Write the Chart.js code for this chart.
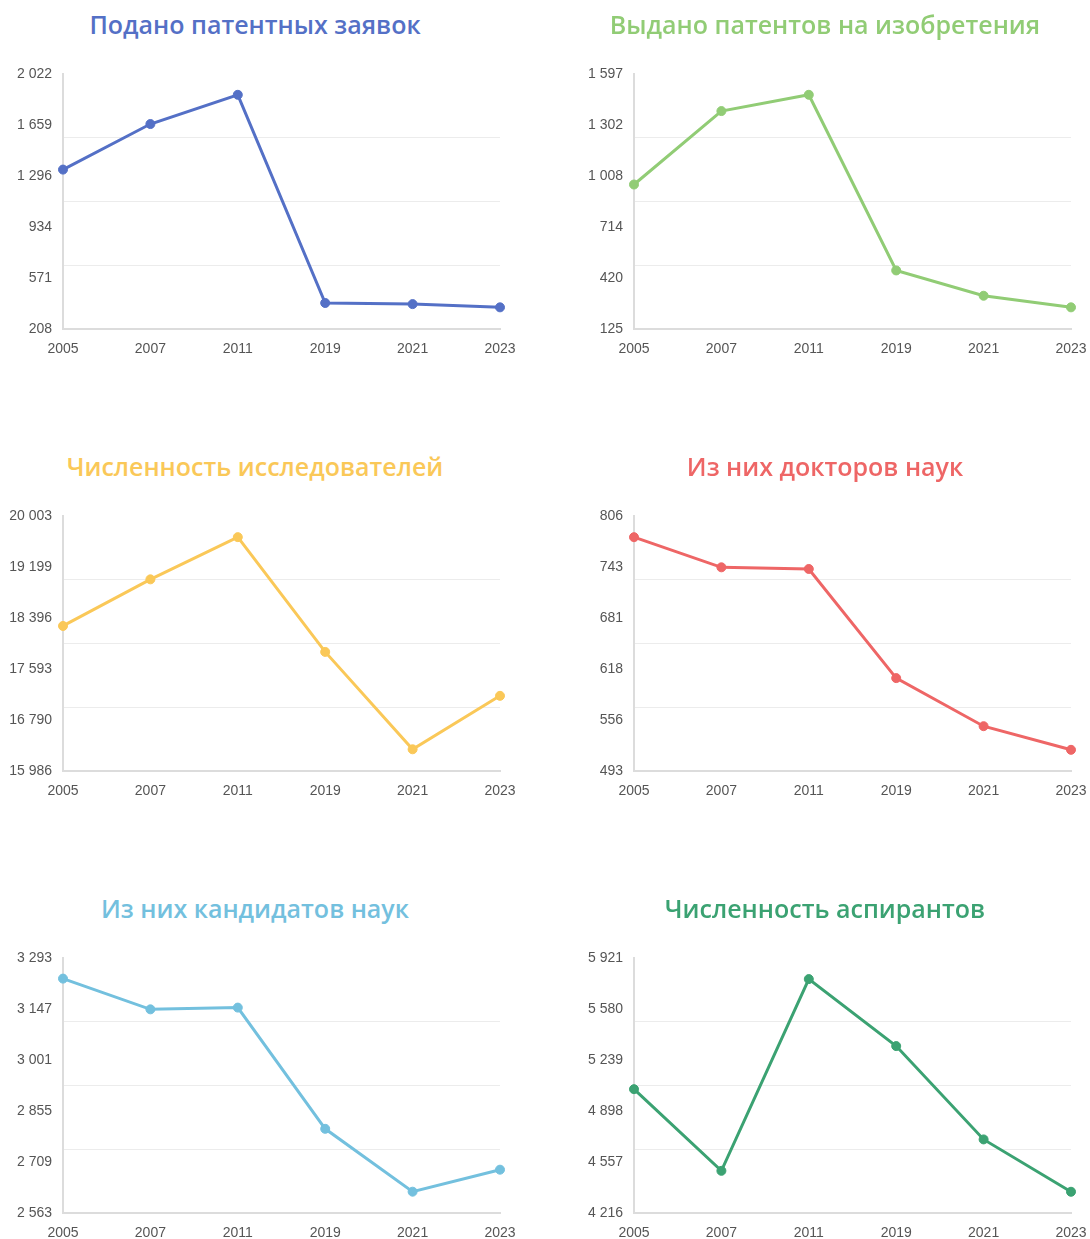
<!DOCTYPE html>
<html><head><meta charset="utf-8">
<script src="https://cdn.jsdelivr.net/npm/chart.js@4.4.1/dist/chart.umd.min.js"></script>
<style>
html,body{margin:0;padding:0;background:#fff;}
body{width:1090px;height:1239px;position:relative;overflow:hidden;}
canvas{position:absolute;}
.title{position:absolute;width:600px;text-align:center;font-family:'Open Sans','Noto Sans',sans-serif;font-weight:600;font-size:25px;line-height:30px;white-space:nowrap;}
</style></head><body>
<script>
const years = ['2005', '2007', '2011', '2019', '2021', '2023'];
const titles = ['Подано патентных заявок', 'Выдано патентов на изобретения', 'Численность исследователей', 'Из них докторов наук', 'Из них кандидатов наук', 'Численность аспирантов'];

const patentApplications = [1342, 1666, 1874, 393, 385, 362];
const patentsGranted = [959, 1383, 1477, 463, 317, 250];
const researchers = [18271, 19005, 19670, 17862, 16328, 17170];
const doctors = [780, 743, 741, 607, 548, 519];
const candidates = [3234, 3146, 3151, 2804, 2624, 2687];
const postgraduates = [5044, 4498, 5780, 5332, 4708, 4358];

const ticksPatentApplications = [208, 571, 934, 1296, 1659, 2022];
const ticksPatentsGranted = [125, 420, 714, 1008, 1302, 1597];
const ticksResearchers = [15986, 16790, 17593, 18396, 19199, 20003];
const ticksDoctors = [493, 556, 618, 681, 743, 806];
const ticksCandidates = [2563, 2709, 2855, 3001, 3147, 3293];
const ticksPostgraduates = [4216, 4557, 4898, 5239, 5580, 5921];

const seriesList = [patentApplications, patentsGranted, researchers, doctors, candidates, postgraduates];
const tickList = [ticksPatentApplications, ticksPatentsGranted, ticksResearchers, ticksDoctors, ticksCandidates, ticksPostgraduates];
const colors = ['#5470c6', '#91cc75', '#fac858', '#ee6666', '#73c0de', '#3ba272'];

function fmt(v) {
  return String(Math.round(v)).replace(/\B(?=(\d{3})+(?!\d))/g, ' ');
}

Chart.defaults.font.family = "'Liberation Sans', Arial, sans-serif";

seriesList.forEach((series, i) => {
  const col = i % 2, row = Math.floor(i / 2);
  const ticks = tickList[i];
  const lo = ticks[0], hi = ticks[ticks.length - 1];

  const t = document.createElement('div');
  t.className = 'title';
  t.textContent = titles[i];
  t.style.color = colors[i];
  t.style.left = (col ? 825 : 255) - 300 + 'px';
  t.style.top = (row * 442 + 9) + 'px';
  document.body.appendChild(t);

  const cv = document.createElement('canvas');
  cv.width = 545; cv.height = 360;
  cv.style.left = (col ? 545 : 0) + 'px';
  cv.style.top = (row * 442) + 'px';
  document.body.appendChild(cv);

  new Chart(cv, {
    type: 'line',
    data: {
      labels: years,
      datasets: [{
        data: series,
        borderColor: colors[i],
        backgroundColor: colors[i],
        pointBackgroundColor: colors[i],
        pointBorderColor: colors[i],
        borderWidth: 3,
        pointRadius: 4.5,
        pointBorderWidth: 1,
        tension: 0,
        fill: false
      }]
    },
    options: {
      responsive: false,
      animation: false,
      devicePixelRatio: 1,
      layout: { padding: { top: 74, right: col ? 19 : 45, bottom: 0, left: 0 } },
      plugins: { legend: { display: false }, tooltip: { enabled: false }, title: { display: false } },
      scales: {
        x: {
          type: 'category',
          offset: false,
          grid: { display: false, drawTicks: false },
          border: { display: true, color: '#dcdcdc', width: 2 },
          ticks: { color: '#555', font: { size: 14 }, padding: 12, maxRotation: 0, autoSkip: false },
          afterFit: s => { s.height = 31; s.paddingLeft = 0; s.paddingRight = 0; }
        },
        y: {
          position: 'left',
          min: lo, max: hi,
          afterBuildTicks: s => { s.ticks = ticks.map(v => ({ value: v })); },
          grid: { display: false, drawTicks: false },
          border: { display: true, color: '#dcdcdc', width: 2 },
          ticks: { color: '#555', font: { size: 14 }, padding: 11, callback: v => fmt(v) },
          afterFit: s => { s.width = col ? 89 : 63; }
        },
        g: {
          position: 'left',
          min: lo, max: hi,
          afterBuildTicks: s => { s.ticks = [1, 2, 3].map(k => ({ value: lo + (hi - lo) * k / 4 })); },
          grid: { color: '#ececec', lineWidth: 1, drawTicks: false },
          border: { display: false },
          ticks: { display: false },
          afterFit: s => { s.width = 0; }
        }
      }
    }
  });
});
</script>
</body></html>
